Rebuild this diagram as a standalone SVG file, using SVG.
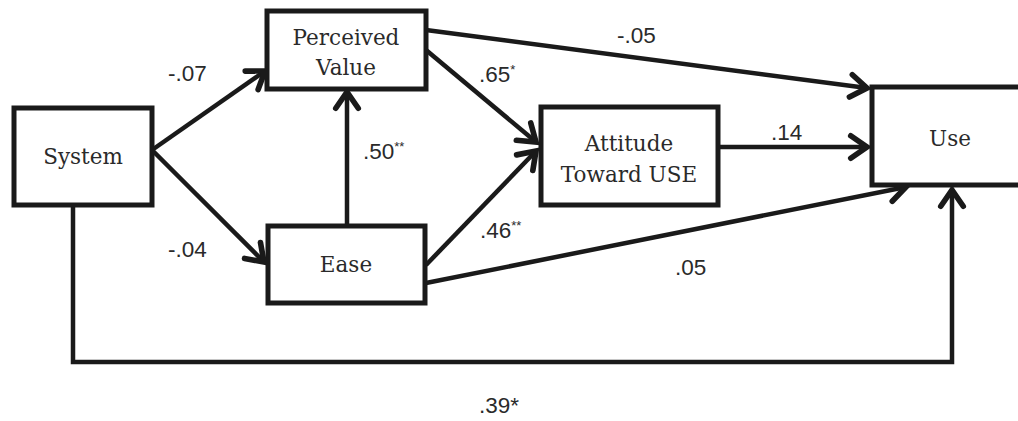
<svg xmlns="http://www.w3.org/2000/svg" width="1018" height="421" viewBox="0 0 1018 421">
<style>
.box{fill:#fff;stroke:#1a1a1a;stroke-width:5}
.lbl{font-family:"DejaVu Serif","Liberation Serif",serif;font-size:21.5px;fill:#2a2a2a;text-anchor:middle}
.num{font-family:"Liberation Sans",Arial,sans-serif;font-size:22.5px;fill:#2a2a2a}
.sup{font-size:13px}
.edge{fill:none;stroke:#1a1a1a;stroke-width:4.5;marker-end:url(#arr)}
</style>
<defs>
<marker id="arr" markerUnits="userSpaceOnUse" markerWidth="30" markerHeight="30" viewBox="-16 -12 20 24" refX="0" refY="0" orient="auto">
<path d="M-13,-9 L0,0 L-13,9" fill="none" stroke="#1a1a1a" stroke-width="4.5" stroke-linecap="round" stroke-linejoin="miter"/>
</marker>
</defs>
<rect width="1018" height="421" fill="#fff"/>
<g id="connectors">
<line class="edge" x1="152" y1="150" x2="265" y2="71"/>
<line class="edge" x1="152" y1="150" x2="264" y2="262"/>
<line class="edge" x1="347" y1="226" x2="347" y2="92"/>
<line class="edge" x1="426" y1="50" x2="536" y2="142"/>
<line class="edge" x1="426" y1="265" x2="536" y2="151"/>
<line class="edge" x1="426" y1="30" x2="867" y2="88"/>
<line class="edge" x1="718" y1="147" x2="867" y2="147"/>
<line class="edge" x1="426" y1="283" x2="906" y2="187"/>
<polyline class="edge" points="73,205 73,362 952,362 952,190"/>
</g>
<g id="n-system"><rect class="box" x="14" y="108" width="138" height="97"/><text class="lbl" x="83" y="164">System</text></g>
<g id="n-pv"><rect class="box" x="267" y="11" width="159" height="78"/><text class="lbl" x="346" y="45">Perceived</text><text class="lbl" x="346" y="75">Value</text></g>
<g id="n-ease"><rect class="box" x="268" y="226" width="157" height="77"/><text class="lbl" x="346" y="272">Ease</text></g>
<g id="n-att"><rect class="box" x="541" y="107" width="177" height="98"/><text class="lbl" x="629" y="151">Attitude</text><text class="lbl" x="629" y="182">Toward USE</text></g>
<g id="n-use"><rect class="box" x="872" y="87" width="160" height="98"/><text class="lbl" x="950" y="146">Use</text></g>
<g id="labels">
<text class="num" x="168" y="81">-.07</text>
<text class="num" x="168" y="257">-.04</text>
<text class="num" x="363" y="159">.50<tspan class="sup" dy="-8">**</tspan></text>
<text class="num" x="479" y="82">.65<tspan class="sup" dy="-8">*</tspan></text>
<text class="num" x="480" y="238">.46<tspan class="sup" dy="-8">**</tspan></text>
<text class="num" x="617" y="43">-.05</text>
<text class="num" x="771" y="140">.14</text>
<text class="num" x="675" y="275">.05</text>
<text class="num" x="479" y="413">.39*</text>
</g>
</svg>
